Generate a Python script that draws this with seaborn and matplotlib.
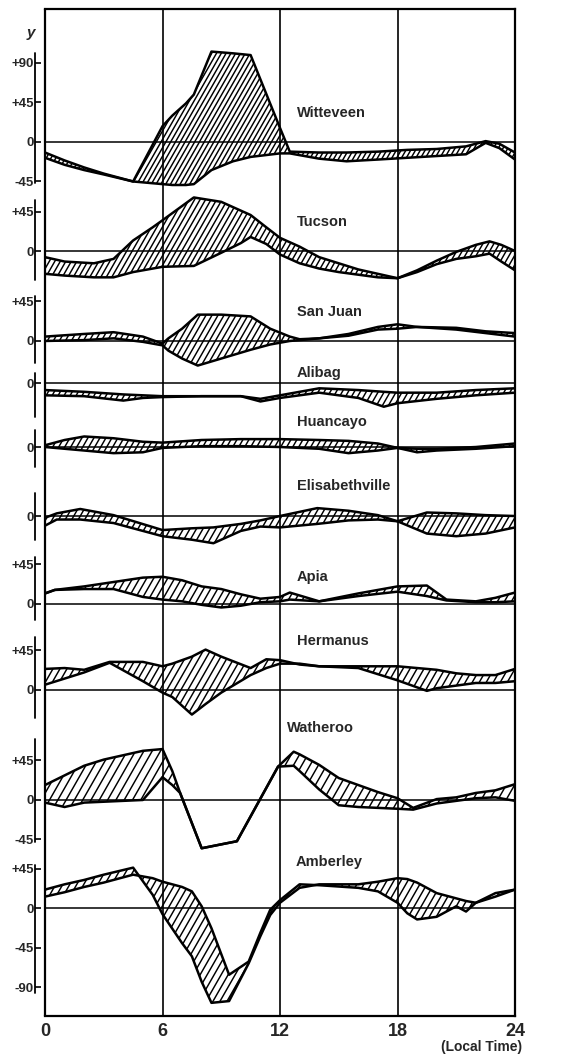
import numpy as np
import matplotlib
matplotlib.use("Agg")
import matplotlib.pyplot as plt
from matplotlib.collections import LineCollection
import seaborn as sns

# ---- diurnal variation of declination at ten observatories ----
stations = ["Witteveen", "Tucson", "San Juan", "Alibag", "Huancayo",
            "Elisabethville", "Apia", "Hermanus", "Watheroo", "Amberley"]

witteveen_hours = [0, 1, 2, 3, 4.5, 6, 6.5, 7.2, 7.6, 8.5, 9.6, 10.5, 12, 12.5, 14, 15.4, 17, 18.5, 20, 21.5, 22.5, 23.2, 24]
witteveen_a = [-12, -21, -29, -36, -45, 18, 30, 44, 54, 103, 101, 99, 16, -11, -12, -12, -11, -9, -8, -5, 1, -2, -12]
witteveen_b = [-18, -26, -32, -37, -45, -48, -49, -49, -48, -32, -22, -17, -13, -13, -19, -22, -20, -18, -16, -14, -1, -7, -20]

tucson_hours = [0, 1, 2.5, 3.5, 4.5, 5.5, 6, 7.6, 9, 10, 10.5, 11.3, 12, 13, 14, 15, 16, 17, 18, 19, 20, 21, 22, 22.7, 23.3, 24]
tucson_a = [-7, -12, -14, -9, 12, 27, 35, 61, 56, 46, 41, 27, 15, 5, -7, -14, -21, -26, -31, -22, -11, -1, 7, 11, 7, 0]
tucson_b = [-26, -28, -30, -30, -24, -20, -18, -17, -2, 9, 16, 8, -4, -14, -20, -24, -27, -30, -31, -24, -15, -9, -6, -3, -12, -22]

san_juan_hours = [0, 2, 3.5, 5, 6, 6.3, 7, 7.8, 9, 10.5, 11.5, 12.5, 13, 14, 15.5, 17, 18, 19, 21, 22.5, 24]
san_juan_a = [5, 8, 10, 5, -3, 3, 14, 30, 30, 28, 14, 5, 2, 3, 8, 16, 19, 16, 15, 11, 9]
san_juan_b = [0, 1, 3, -1, -5, -11, -20, -28, -20, -10, -4, 0, 1, 3, 6, 13, 14, 16, 13, 9, 5]

alibag_hours = [0, 2, 4, 5, 6, 8, 10, 11, 12, 14, 16, 17.3, 18, 20, 22, 24]
alibag_a = [-8, -10, -13, -14, -15, -15, -15, -18, -14, -6, -8, -10, -11, -11, -8, -6]
alibag_b = [-14, -15, -20, -17, -16, -15, -15, -21, -17, -11, -17, -27, -23, -18, -14, -11]

huancayo_hours = [0, 1, 2, 3.5, 5, 6, 8, 10, 12, 14, 15.5, 17, 18, 19, 20, 22, 24]
huancayo_a = [2, 8, 12, 10, 6, 5, 8, 9, 9, 8, 7, 4, -1, -2, -2, 0, 4]
huancayo_b = [0, -2, -4, -7, -6, -1, 1, 1, 0, -2, -7, -4, -1, -6, -4, -2, 1]

elisabethville_hours = [0, 0.6, 1.8, 3.5, 6, 7.5, 8.6, 10, 11, 12, 13.9, 15.5, 17, 18, 19.5, 21, 22.5, 24]
elisabethville_a = [-2, 3, 8, 1, -16, -14, -13, -9, -5, 0, 9, 6, 1, -6, 4, 3, 1, 0]
elisabethville_b = [-11, -4, -4, -8, -23, -27, -31, -17, -12, -13, -9, -5, -4, -6, -20, -23, -20, -13]

apia_hours = [0, 0.5, 2, 3.5, 5, 6, 7, 8, 9, 10, 11, 12, 12.5, 14, 16, 18, 19.5, 20.5, 22, 23, 24]
apia_a = [12, 16, 20, 25, 30, 31, 27, 20, 17, 11, 6, 8, 13, 3, 12, 20, 21, 5, 3, 7, 13]
apia_b = [12, 16, 17, 17, 8, 5, 3, -1, -4, -2, 2, 3, 5, 3, 9, 14, 9, 4, 2, 2, 3]

hermanus_hours = [0, 1, 2, 3.3, 5, 6, 6.5, 7.5, 8.2, 9, 10.5, 11.3, 12, 13, 14, 16, 18, 19.5, 20, 21, 22, 23, 24]
hermanus_a = [6, 13, 20, 31, 10, -3, -8, -28, -16, -3, 17, 25, 30, 30, 27, 25, 11, -1, 2, 5, 8, 8, 10]
hermanus_b = [24, 25, 23, 32, 32, 27, 30, 38, 46, 38, 25, 35, 34, 29, 27, 27, 27, 24, 23, 19, 17, 17, 24]

watheroo_hours = [0, 1, 2, 3, 4, 5, 6, 6.5, 6.9, 8, 9.8, 11.9, 12.7, 13, 14, 15, 16, 17, 18, 18.8, 20, 21, 22, 23, 24]
watheroo_a = [17, 28, 39, 46, 51, 56, 58, 33, 8, -55, -47, 38, 55, 52, 40, 25, 17, 9, 2, -9, 1, 3, 8, 11, 18]
watheroo_b = [-3, -8, -3, -2, -1, 0, 26, 17, 8, -55, -47, 38, 39, 33, 12, -6, -8, -9, -10, -11, -4, -1, 2, 3, -1]

amberley_hours = [0, 1, 2, 3, 4.5, 5.5, 6, 7, 7.5, 8, 8.5, 9.4, 10.4, 11, 11.5, 12, 13, 14, 16, 17, 18, 18.5, 19, 20, 21, 21.5, 22, 23, 24]
amberley_a = [21, 27, 32, 38, 46, 15, -7, -40, -55, -84, -108, -106, -63, -32, -8, 6, 23, 27, 27, 30, 34, 33, 29, 17, 11, 8, 6, 13, 21]
amberley_b = [13, 18, 24, 29, 38, 34, 30, 24, 19, 2, -23, -76, -61, -28, -2, 9, 27, 26, 23, 19, 6, -6, -13, -10, 2, -4, 6, 17, 21]

# tick values shown on each station's own little scale
tick_values = [[90, 45, 0, -45], [45, 0], [45, 0], [0], [0],
               [0], [45, 0], [45, 0], [45, 0, -45], [45, 0, -45, -90]]

x_ticks = [0, 6, 12, 18, 24]

# ---- layout (vertical placement of each trace, in the same units) ----
baselines = [151.5, 275.7, 378.2, 426.1, 499.0, 577.6, 677.8, 775.8, 901.1, 1024.2]
bottom_limit = 1147.2
scale_spans = [(101, -47), (58, -33), (51, -25), (11, -39), (19, -23),
               (26, -27), (53, -18), (60, -32), (70, -48), (49, -97)]
label_pos = [(12.87, 33), (12.87, 33), (12.87, 33), (12.87, 11), (12.87, 28),
             (12.87, 34), (12.87, 31), (12.87, 56), (12.36, 82), (12.8, 52)]
hatch_gap_px = [4.8, 5.5, 6.0, 6.0, 6.0, 6.5, 7.0, 7.0, 8.3, 7.0]

series = {
    "Witteveen": (witteveen_hours, witteveen_a, witteveen_b),
    "Tucson": (tucson_hours, tucson_a, tucson_b),
    "San Juan": (san_juan_hours, san_juan_a, san_juan_b),
    "Alibag": (alibag_hours, alibag_a, alibag_b),
    "Huancayo": (huancayo_hours, huancayo_a, huancayo_b),
    "Elisabethville": (elisabethville_hours, elisabethville_a, elisabethville_b),
    "Apia": (apia_hours, apia_a, apia_b),
    "Hermanus": (hermanus_hours, hermanus_a, hermanus_b),
    "Watheroo": (watheroo_hours, watheroo_a, watheroo_b),
    "Amberley": (amberley_hours, amberley_a, amberley_b),
}

sns.set_theme(style="white")
FONT = ["Liberation Sans Narrow", "Liberation Sans", "DejaVu Sans"]
plt.rcParams["font.family"] = FONT
plt.rcParams["font.weight"] = "bold"

AX_W, AX_H = 470, 1007   # axes size in pixels
fig = plt.figure(figsize=(5.73, 10.58), dpi=100)
ax = fig.add_axes([45 / 573, 42 / 1058, AX_W / 573, AX_H / 1058])
ax.set_xlim(0, 24)
ax.set_ylim(-bottom_limit, 0)

# steep diagonal shading, drawn in axes space and clipped to each band
HATCH_RUN = (AX_H / 1.75) / AX_W


def hatch_lines(gap_px):
    step = gap_px / AX_W
    starts = np.arange(-HATCH_RUN, 1 + step, step)
    return [[(u, 0.0), (u + HATCH_RUN, 1.0)] for u in starts]


LW = 1.8
for name, base, (lx, ly), gap in zip(stations, baselines, label_pos, hatch_gap_px):
    hrs, a, b = series[name]
    ya = [-base + v for v in a]
    yb = [-base + v for v in b]
    band = ax.fill_between(hrs, ya, yb, facecolor="none", linewidth=0)
    segs = hatch_lines(gap)
    for path in band.get_paths():
        lc = LineCollection(segs, transform=ax.transAxes,
                            colors="black", linewidths=1.05)
        ax.add_collection(lc, autolim=False)
        lc.set_clip_path(path, ax.transData)
    sns.lineplot(x=hrs, y=ya, ax=ax, color="black", lw=LW, estimator=None, sort=False)
    sns.lineplot(x=hrs, y=yb, ax=ax, color="black", lw=LW, estimator=None, sort=False)
    ax.axhline(-base, color="black", lw=1.1)
    ax.text(lx, -base + ly, name, fontsize=10.5, fontweight="bold",
            ha="left", va="center")

for h in (6, 12, 18):
    ax.axvline(h, color="black", lw=1.2)

# frame
for side in ("top", "right", "bottom"):
    ax.spines[side].set_visible(True)
    ax.spines[side].set_color("black")
    ax.spines[side].set_linewidth(1.6)
ax.axvline(0, color="black", lw=1.6, clip_on=False)

# per-station scales on a detached left axis
ax.spines["left"].set_position(("outward", 7))
ax.spines["left"].set_visible(False)
ypos, ylab = [], []
for base, ticks in zip(baselines, tick_values):
    for t in ticks:
        ypos.append(-base + t)
        ylab.append("0" if t == 0 else f"{t:+d}")
ax.set_yticks(ypos)
ax.set_yticklabels(ylab)
ax.tick_params(axis="y", which="both", left=True, direction="in", length=4,
               width=1.2, color="black", pad=1, labelsize=9.5)
for lab in ax.get_yticklabels():
    lab.set_fontweight("bold")

seg_tr = ax.get_yaxis_transform(which="tick1")
for base, (top, bot) in zip(baselines, scale_spans):
    ax.plot([0, 0], [-base + top, -base + bot], transform=seg_tr,
            color="black", lw=1.3, clip_on=False)

ax.text(0, -27, "y", transform=seg_tr, ha="right", va="center",
        fontsize=11, fontweight="bold", fontstyle="italic")

ax.set_xticks(x_ticks)
ax.set_xticklabels([str(v) for v in x_ticks])
ax.tick_params(axis="x", length=0, pad=5, labelsize=13)
for lab in ax.get_xticklabels():
    lab.set_fontweight("bold")
ax.grid(False)

fig.text(522 / 573, 1 - 1047 / 1058, "(Local Time)", ha="right", va="center",
         fontsize=10, fontweight="bold")

fig.savefig("out.png", dpi=100, facecolor="white")
